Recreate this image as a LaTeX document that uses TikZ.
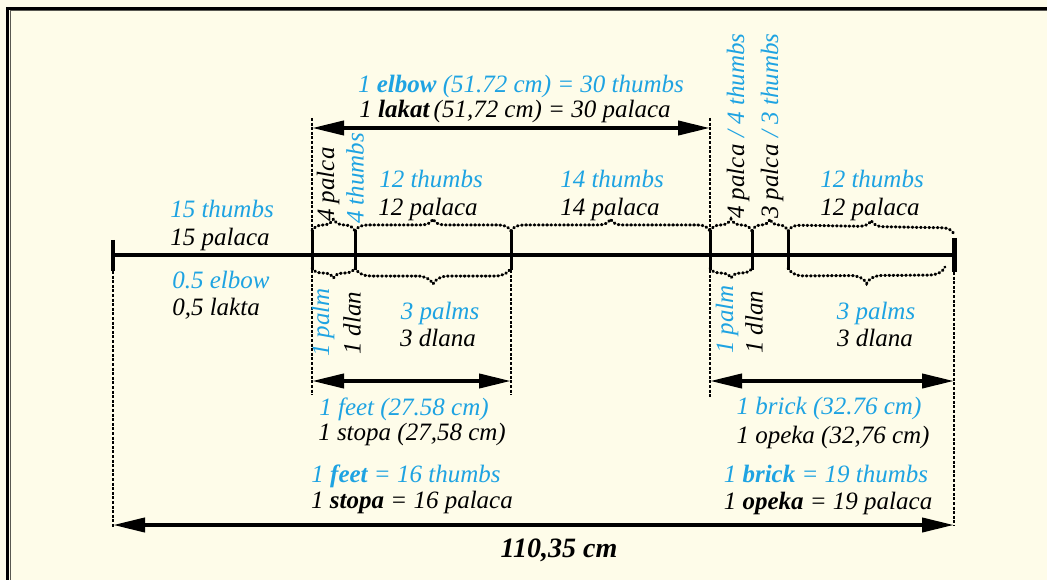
\documentclass[tikz,border=0pt]{standalone}
\usepackage{fontspec}
\setmainfont{Liberation Serif}
\usepackage{xcolor}
\usepackage{tikz}
\usetikzlibrary{arrows.meta, decorations.pathreplacing}
\definecolor{paper}{RGB}{254,252,233}
\definecolor{thumbblue}{RGB}{30,163,226}
\tikzset{
	lbl/.style={font=\fontsize{25}{29}\selectfont\rmfamily\itshape, inner sep=0pt, anchor=base},
	blu/.style={lbl, text=thumbblue},
	blk/.style={lbl, text=black},
	vert/.style={rotate=90, anchor=west},
	tickmark/.style={line width=3pt},
	extline/.style={line width=1.2pt, dash pattern=on 3pt off 1.6pt},
	dimline/.style={line width=4pt, {Triangle[length=32pt,width=14pt]}-{Triangle[length=32pt,width=14pt]}},
	dotbrace/.style={line width=3pt, line cap=round, dash pattern=on 0.8pt off 3.4pt, decorate},
	upbrace/.style={dotbrace, decoration={brace, amplitude=12pt}},
	downbrace/.style={dotbrace, decoration={brace, mirror, amplitude=#1}},
}

\begin{document}
\begin{tikzpicture}[x=1pt, y=-1pt]
	\useasboundingbox (0,0) rectangle (1047,580);
	\fill[paper] (0,0) rectangle (1047,580);
	\draw[line width=3.5pt] (7.5,580) -- (7.5,8.5) -- (1047,8.5);
	\draw[line width=1pt, black!65!paper] (10,580) -- (10,11) -- (1047,11);

	% ticks on the main line
	\foreach \n/\x in {0/113, 1/312, 2/355, 3/511, 4/710, 5/752, 6/788, 7/954}
	{
		\coordinate (t\n) at (\x,255);
	}
	\coordinate (elbowL) at (312,128);
	\coordinate (elbowR) at (710,128);
	\coordinate (feetL) at (312,381);
	\coordinate (feetR) at (511,381);
	\coordinate (brickL) at (710,381);
	\coordinate (brickR) at (954,381);
	\coordinate (totL) at (113,525);
	\coordinate (totR) at (954,525);

	\draw[line width=4pt] (t0) -- (t7);
	\draw[line width=4pt] ([yshift=15]t0) -- ([yshift=-16]t0);
	\draw[line width=5pt] ([yshift=17]t7) -- ([yshift=-17]t7);
	\foreach \n in {1,...,6}
	{
		\draw[tickmark] ([yshift=25]t\n) -- ([yshift=-15]t\n);
	}

	% extension lines
	\draw[extline] ([yshift=-16]t0) -- ([yshift=-2]totL);
	\draw[extline] ([yshift=10]elbowL) -- ([yshift=25]t1);
	\draw[extline] ([yshift=-15]t1) -- ([yshift=-14]feetL);
	\draw[extline] ([yshift=-15]t3) -- ([yshift=-14]feetR);
	\draw[extline] ([yshift=10]elbowR) -- ([yshift=25]t4);
	\draw[extline] ([yshift=-15]t4) -- ([yshift=-16]brickL);
	\draw[extline] ([yshift=-17]t7) -- ([yshift=-1]totR);

	% dimension arrows
	\draw[dimline] (elbowL) -- (elbowR);
	\draw[dimline] (feetL) -- (feetR);
	\draw[dimline] (brickL) -- (brickR);
	\draw[dimline] (totL) -- (totR);

	% braces
	\draw[upbrace] ([yshift=24]t1) -- ([yshift=24]t2);
	\draw[upbrace] ([yshift=24]t2) -- ([yshift=24]t3);
	\draw[upbrace] ([yshift=24]t3) -- ([yshift=24]t4);
	\draw[upbrace] ([yshift=24]t4) -- ([yshift=24]t5);
	\draw[upbrace] ([yshift=24]t5) -- ([yshift=24]t6);
	\draw[upbrace] ([yshift=24]t6) -- ([yshift=21]t7);
	\draw[downbrace=10pt] ([yshift=-13]t1) -- ([yshift=-13]t2);
	\draw[downbrace=16pt] ([yshift=-13]t2) -- ([yshift=-13]t3);
	\draw[downbrace=10pt] ([yshift=-13]t4) -- ([yshift=-13]t5);
	\draw[downbrace=16pt] ([yshift=-13]t6) -- ([xshift=-9,yshift=-12]t7);

	% labels
	\node[blu] (elbowEn) at (521,93) {1 \textbf{elbow} (51.72 cm) = 30 thumbs};
	\node[blk] (elbowSr) at (515,118) {1 \textbf{lakat}\,(51,72 cm) = 30 palaca};
	\node[blu] (halfEn) at (222,218) {15 thumbs};
	\node[blk] (halfSr) at (220,246) {15 palaca};
	\node[blu] (halfElbowEn) at (221,288) {0.5 elbow};
	\node[blk] (halfElbowSr) at (216,315) {0,5 lakta};
	\node[blk, vert] (palmFourSr) at (328,222) {4 palca};
	\node[blu, vert] (palmFourEn) at (355,224) {4 thumbs};
	\node[blu] (twelveEn) at (431,188) {12 thumbs};
	\node[blk] (twelveSr) at (428,216) {12 palaca};
	\node[blu] (fourteenEn) at (612,188) {14 thumbs};
	\node[blk] (fourteenSr) at (610,216) {14 palaca};
	\node[blu, vert] (palmEn) at (323,357) {1 palm};
	\node[blk, vert] (palmSr) at (352,355) {1 dlan};
	\node[blu] (palmsEn) at (440,319) {3 palms};
	\node[blk] (palmsSr) at (438,346) {3 dlana};
	\node[blk, vert] (fourR) at (738,219) {4 palca\hspace{7pt}{\color{thumbblue}/ 4 thumbs}};
	\node[blk, vert] (threeR) at (772,219) {3 palca\hspace{7pt}{\color{thumbblue}/ 3 thumbs}};
	\node[blu] (twelveEnR) at (872,188) {12 thumbs};
	\node[blk] (twelveSrR) at (870,216) {12 palaca};
	\node[blu, vert] (palmEnR) at (727,354) {1 palm};
	\node[blk, vert] (palmSrR) at (754,354) {1 dlan};
	\node[blu] (palmsEnR) at (876,319) {3 palms};
	\node[blk] (palmsSrR) at (875,346) {3 dlana};
	\node[blu] (feetEn) at (404,415) {1 feet (27.58 cm)};
	\node[blk] (feetSr) at (412,440) {1 stopa (27,58 cm)};
	\node[blu] (feetThumbs) at (406,482) {1 \textbf{feet} = 16 thumbs};
	\node[blk] (feetPalaca) at (412,508) {1 \textbf{stopa} = 16 palaca};
	\node[blu] (brickEn) at (829,414) {1 brick (32.76 cm)};
	\node[blk] (brickSr) at (833,443) {1 opeka (32,76 cm)};
	\node[blu] (brickThumbs) at (826,482) {1 \textbf{brick} = 19 thumbs};
	\node[blk] (brickPalaca) at (828,509) {1 \textbf{opeka} = 19 palaca};
	\node[blk, font=\fontsize{28}{32}\selectfont\rmfamily\bfseries\itshape] (total) at (559,557) {110,35 cm};
\end{tikzpicture}
\end{document}
